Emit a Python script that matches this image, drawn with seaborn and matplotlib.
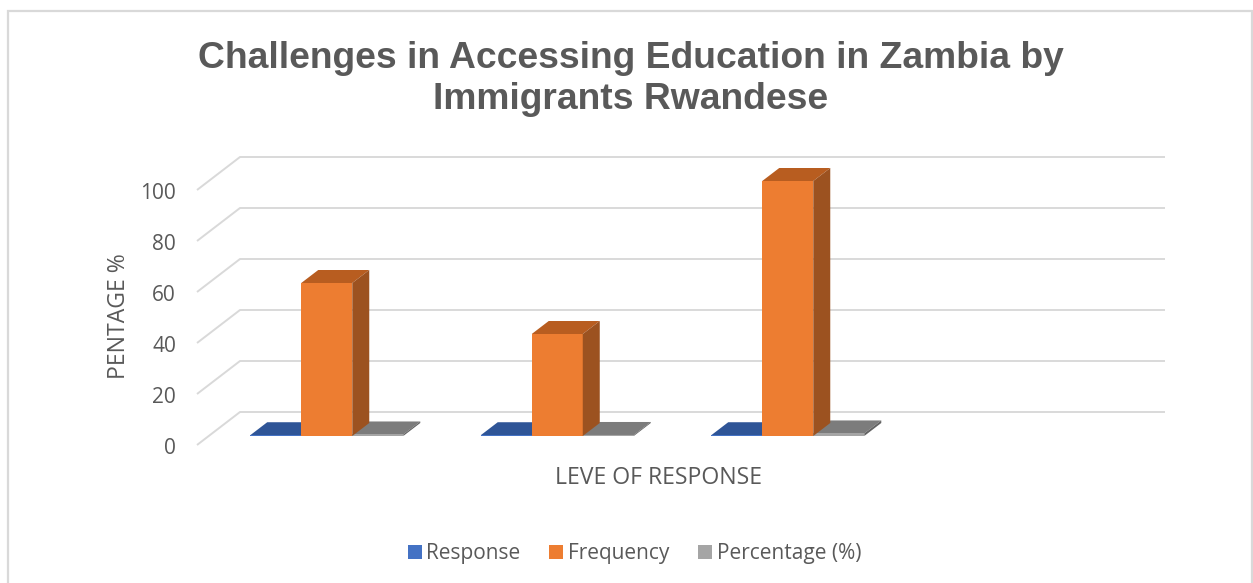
import matplotlib
matplotlib.use("Agg")
import matplotlib.pyplot as plt
import matplotlib.transforms as mtrans
from matplotlib.patches import Patch, Polygon, Rectangle
import pandas as pd
import seaborn as sns

# ---- data ----
categories = ["1", "2", "3", "4"]
series_names = ["Response", "Frequency", "Percentage (%)"]
response = [0.3, 0.3, 0.3, None]
frequency = [60, 40, 100, None]
percentage = [0.6, 0.4, 1.0, None]
y_ticks = [0, 20, 40, 60, 80, 100]
title_text = "Challenges in Accessing Education in Zambia by\nImmigrants Rwandese"
x_title = "LEVE OF RESPONSE"
y_title = "PENTAGE %"

# ---- styles ----
W, H, DPI = 1253, 583, 100
front = ["#4472C4", "#ED7D31", "#A5A5A5"]
top = ["#2F5597", "#B85D20", "#7C7C7C"]
side = ["#264478", "#9C5220", "#636363"]
TXT = "#595959"
GRID = "#D9D9D9"
LEFT_PX, RIGHT_PX, FLOOR_PX, TOP_PX = 211.5, 1133.5, 436, 181

sns.set_theme(style="white")
plt.rcParams["font.family"] = ["Open Sans", "DejaVu Sans"]

df = pd.DataFrame({
    "category": categories * 3,
    "series": [s for s in series_names for _ in categories],
    "value": response + frequency + percentage,
})

fig = plt.figure(figsize=(W / DPI, H / DPI), dpi=DPI, facecolor="white")
ax = fig.add_axes([LEFT_PX / W, 1 - FLOOR_PX / H, (RIGHT_PX - LEFT_PX) / W, (FLOOR_PX - TOP_PX) / H])
sns.barplot(data=df, x="category", y="value", hue="series", order=categories,
            hue_order=series_names, palette=front, saturation=1, width=0.664, gap=0,
            dodge=True, legend=False, linewidth=0, zorder=3, ax=ax, errorbar=None)
ax.set_xlim(-0.5, 3.5)
ax.set_ylim(0, 100)
ax.patch.set_alpha(0)
for s in ax.spines.values():
    s.set_visible(False)

px_x = (RIGHT_PX - LEFT_PX) / 4      # pixels per category
px_y = (FLOOR_PX - TOP_PX) / 100     # pixels per value unit
DX, DY = 17 / px_x, 13 / px_y        # bar depth in data units

# back wall and side gridlines
for v in y_ticks:
    xs = [-0.5 - 14.5 / px_x, -0.5 + 28.5 / px_x, 3.5 + 31.5 / px_x]
    ys = [v - 9 / px_y, v + 24 / px_y, v + 24 / px_y]
    ax.plot(xs, ys, color=GRID, lw=1.4, clip_on=False, zorder=1, solid_capstyle="butt")

# 3D faces derived from the bars seaborn drew
for si, container in enumerate(ax.containers):
    for b in container:
        x0, w, h = b.get_x(), b.get_width(), b.get_height()
        if pd.isna(h) or h == 0:
            continue
        x1 = x0 + w
        z = 3 if si == 1 else 2
        ax.add_patch(Polygon([(x0, h), (x1, h), (x1 + DX, h + DY), (x0 + DX, h + DY)],
                             fc=top[si], ec="none", clip_on=False, zorder=z))
        ax.add_patch(Polygon([(x1, 0), (x1 + DX, DY), (x1 + DX, h + DY), (x1, h)],
                             fc=side[si], ec="none", clip_on=False, zorder=z))

# value axis labels sit on the front edge of the floor
ax.set_yticks(y_ticks)
ax.set_yticklabels([str(v) for v in y_ticks], fontsize=15, color=TXT)
ax.tick_params(axis="y", length=0, pad=35.5 * 72 / DPI)
ax.tick_params(axis="x", length=0, labelbottom=False)
shift = mtrans.ScaledTranslation(0, -10 / DPI, fig.dpi_scale_trans)
for lab in ax.get_yticklabels():
    lab.set_transform(lab.get_transform() + shift)

ax.set_xlabel(x_title, fontsize=16.6, color=TXT)
ax.xaxis.set_label_coords(658.5 / W, 1 - 478 / H, transform=fig.transFigure)
ax.xaxis.label.set_verticalalignment("center")
ax.set_ylabel(y_title, fontsize=16.6, color=TXT)
ax.yaxis.set_label_coords(119 / W, 1 - 316 / H, transform=fig.transFigure)
ax.yaxis.label.set_verticalalignment("center")

fig.text(631 / W, 1 - 79 / H, title_text, ha="center", va="center", fontsize=26.87,
         fontweight="bold", family="Liberation Sans", color=TXT, linespacing=1.21)

handles = [Patch(fc=c, ec="none") for c in front]
fig.legend(handles, series_names, loc="center", bbox_to_anchor=(634.5 / W, 1 - 554 / H),
           ncol=3, frameon=False, fontsize=15, labelcolor=TXT, handlelength=0.67,
           handleheight=0.67, handletextpad=0.22, columnspacing=1.38)

# chart frame
fig.add_artist(Rectangle((8 / W, -0.1), 1244 / W, 1.1 - 11 / H, transform=fig.transFigure,
                         fc="none", ec=GRID, lw=1.6))

fig.savefig("out.png", dpi=DPI)
